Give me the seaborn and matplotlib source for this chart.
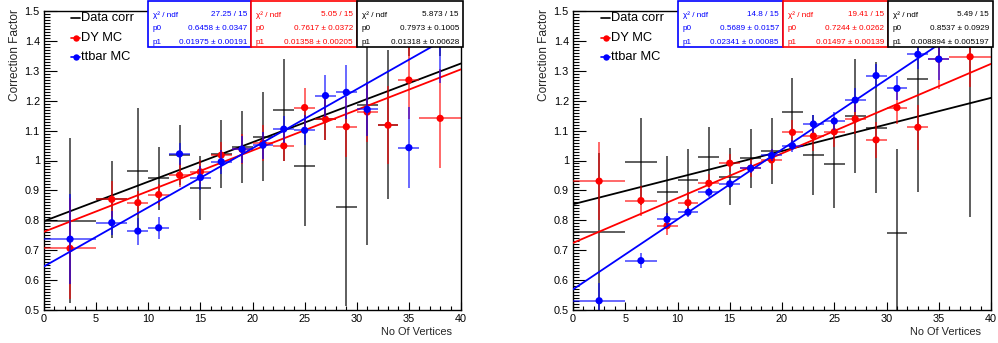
import numpy as np
import pandas as pd
import matplotlib
matplotlib.use("Agg")
import matplotlib.pyplot as plt
from matplotlib.lines import Line2D
from matplotlib.patches import Rectangle
from matplotlib.ticker import MultipleLocator, FixedLocator, FuncFormatter
import seaborn as sns

# ---------------- data ----------------
x_centers = [2.5, 6.5, 9, 11, 13, 15, 17, 19, 21, 23, 25, 27, 29, 31, 33, 35, 38]
x_halfwidth = [2.5, 1.5, 1, 1, 1, 1, 1, 1, 1, 1, 1, 1, 1, 1, 1, 1, 2]

# left panel
L_data_y = [0.798, 0.870, 0.966, 0.940, 1.018, 0.909, 1.022, 1.046, 1.080, 1.169, 0.982, 1.140, 0.845, 1.186, 1.120, 1.650, 1.650]
L_data_e = [0.276, 0.130, 0.210, 0.105, 0.100, 0.107, 0.114, 0.120, 0.150, 0.170, 0.200, 0.070, 0.330, 0.470, 0.250, 0.300, 0.300]
L_dy_y = [0.706, 0.870, 0.859, 0.886, 0.951, 0.962, 1.018, 1.037, 1.058, 1.049, 1.177, 1.138, 1.113, 1.162, 1.118, 1.269, 1.141]
L_dy_e = [0.170, 0.060, 0.040, 0.035, 0.040, 0.040, 0.045, 0.050, 0.060, 0.050, 0.065, 0.070, 0.100, 0.100, 0.130, 0.130, 0.165]
L_tt_y = [0.737, 0.792, 0.764, 0.775, 1.022, 0.943, 0.996, 1.038, 1.051, 1.105, 1.101, 1.217, 1.228, 1.171, 1.600, 1.043, 1.550]
L_tt_e = [0.150, 0.040, 0.045, 0.036, 0.036, 0.040, 0.040, 0.045, 0.045, 0.045, 0.050, 0.070, 0.090, 0.090, 0.080, 0.135, 0.290]

# right panel
R_data_y = [0.760, 0.996, 0.894, 0.935, 1.011, 0.946, 1.007, 1.033, 1.161, 1.018, 0.987, 1.149, 1.110, 0.759, 1.273, 1.650, 1.380]
R_data_e = [0.266, 0.145, 0.120, 0.105, 0.100, 0.095, 0.100, 0.110, 0.116, 0.135, 0.146, 0.190, 0.220, 0.280, 0.377, 0.300, 0.570]
R_dy_y = [0.931, 0.866, 0.782, 0.859, 0.924, 0.991, 0.974, 1.002, 1.094, 1.082, 1.096, 1.139, 1.069, 1.177, 1.111, 1.339, 1.347]
R_dy_e = [0.130, 0.050, 0.030, 0.035, 0.030, 0.030, 0.030, 0.035, 0.040, 0.050, 0.050, 0.050, 0.060, 0.055, 0.075, 0.100, 0.100]
R_tt_y = [0.531, 0.665, 0.803, 0.827, 0.894, 0.922, 0.974, 1.017, 1.049, 1.122, 1.132, 1.202, 1.284, 1.241, 1.355, 1.339, 1.600]
R_tt_e = [0.060, 0.025, 0.020, 0.015, 0.015, 0.015, 0.015, 0.020, 0.020, 0.030, 0.030, 0.040, 0.040, 0.040, 0.050, 0.070, 0.100]

# fit parameters (text in stat boxes)
L_fit = {"blue": ("27.25 / 15", 0.6458, "0.6458 ± 0.0347", 0.01975, "0.01975 ± 0.00191"),
         "red": ("5.05 / 15", 0.7617, "0.7617 ± 0.0372", 0.01358, "0.01358 ± 0.00205"),
         "black": ("5.873 / 15", 0.7973, "0.7973 ± 0.1005", 0.01318, "0.01318 ± 0.00628")}
R_fit = {"blue": ("14.8 / 15", 0.5689, "0.5689 ± 0.0157", 0.02341, "0.02341 ± 0.00085"),
         "red": ("19.41 / 15", 0.7244, "0.7244 ± 0.0262", 0.01497, "0.01497 ± 0.00139"),
         "black": ("5.49 / 15", 0.8537, "0.8537 ± 0.0929", 0.008894, "0.008894 ± 0.005197")}

legend_labels = ["Data corr", "DY MC", "ttbar MC"]
x_ticks = [0, 5, 10, 15, 20, 25, 30, 35, 40]
y_ticks = [0.5, 0.6, 0.7, 0.8, 0.9, 1.0, 1.1, 1.2, 1.3, 1.4, 1.5]

# ---------------- style ----------------
sns.set_style("ticks")
plt.rcParams["font.family"] = ["Liberation Sans", "DejaVu Sans"]

W, H = 998, 343
fig = plt.figure(figsize=(W / 100, H / 100), dpi=100)

BLUE = "#0000ff"
RED = "#ff0000"
BLACK = "#000000"


def fx(px):
    return px / W


def fy(py):
    return 1 - py / H


def ytick_fmt(v, pos):
    s = f"{v:.1f}"
    return "1" if abs(v - 1) < 1e-9 else s


def draw_panel(ax, dy_data, dy_err, dy_dy, dy_dyerr, tt_y, tt_e, fits):
    df = pd.DataFrame({"x": x_centers, "xe": x_halfwidth})
    xl = np.array([0.0, 40.0])
    # data corr
    ax.errorbar(x_centers, dy_data, xerr=x_halfwidth, yerr=dy_err, fmt="none",
                ecolor=BLACK, elinewidth=1.1, capsize=0, alpha=0.8, zorder=2)
    sns.lineplot(x=xl, y=fits["black"][1] + fits["black"][3] * xl, color=BLACK,
                 lw=1.3, ax=ax, zorder=3)
    # DY
    ax.errorbar(x_centers, dy_dy, xerr=x_halfwidth, yerr=dy_dyerr, fmt="none",
                ecolor=RED, elinewidth=1.1, capsize=0, alpha=0.75, zorder=4)
    sns.scatterplot(x=df["x"], y=dy_dy, color=RED, s=27, edgecolor="none", ax=ax,
                    zorder=5, legend=False)
    sns.lineplot(x=xl, y=fits["red"][1] + fits["red"][3] * xl, color=RED,
                 lw=1.3, ax=ax, zorder=5)
    # ttbar
    ax.errorbar(x_centers, tt_y, xerr=x_halfwidth, yerr=tt_e, fmt="none",
                ecolor=BLUE, elinewidth=1.1, capsize=0, alpha=0.75, zorder=6)
    sns.scatterplot(x=df["x"], y=tt_y, color=BLUE, s=27, edgecolor="none", ax=ax,
                    zorder=7, legend=False)
    sns.lineplot(x=xl, y=fits["blue"][1] + fits["blue"][3] * xl, color=BLUE,
                 lw=1.3, ax=ax, zorder=7)

    ax.set_xlim(0, 40)
    ax.set_ylim(0.5, 1.5)
    ax.set_xlabel("")
    ax.set_ylabel("")
    ax.xaxis.set_major_locator(FixedLocator(x_ticks))
    ax.xaxis.set_minor_locator(MultipleLocator(1))
    ax.yaxis.set_major_locator(FixedLocator(y_ticks))
    ax.yaxis.set_minor_locator(MultipleLocator(0.01))
    ax.yaxis.set_major_formatter(FuncFormatter(ytick_fmt))
    ax.tick_params(axis="both", which="both", direction="in", top=False, right=False,
                   labelsize=7.8, width=0.8, colors="black")
    ax.tick_params(axis="y", which="major", length=9, pad=3)
    ax.tick_params(axis="y", which="minor", length=4.6)
    ax.tick_params(axis="x", which="major", length=6, pad=3)
    ax.tick_params(axis="x", which="minor", length=3)
    for s in ax.spines.values():
        s.set_visible(True)
        s.set_linewidth(1.0)
        s.set_color("black")


def stat_boxes(x_edges, fits):
    y0, y1 = 1, 47
    rows = [15, 28.5, 42]
    for (xa, xb), key, col in zip(x_edges, ["blue", "red", "black"], [BLUE, RED, BLACK]):
        chi, _, p0s, _, p1s = fits[key]
        fig.add_artist(Rectangle((fx(xa), fy(y1)), fx(xb) - fx(xa), fy(y0) - fy(y1),
                                 transform=fig.transFigure, facecolor="white",
                                 edgecolor=col, lw=1.2, zorder=10))
        labels = ["χ² / ndf", "p0", "p1"]
        values = [chi, p0s, p1s]
        for r, lab, val in zip(rows, labels, values):
            fig.text(fx(xa + 5), fy(r), lab, color=col, fontsize=5.9, ha="left",
                     va="center", zorder=11)
            fig.text(fx(xb - 4), fy(r), val, color=col, fontsize=5.9, ha="right",
                     va="center", zorder=11)


def legend(xoff):
    ys = [18, 38, 57]
    cols = [BLACK, RED, BLUE]
    for i, (lab, c, yy) in enumerate(zip(legend_labels, cols, ys)):
        fig.add_artist(Line2D([fx(71 + xoff), fx(80 + xoff)], [fy(yy), fy(yy)],
                              transform=fig.transFigure, color=c, lw=1.2, zorder=12))
        if i > 0:
            fig.add_artist(Line2D([fx(75.5 + xoff)], [fy(yy)], transform=fig.transFigure,
                                  marker="o", ms=4.6, color=c, mec="none", zorder=12))
        fig.text(fx(81 + xoff), fy(yy), lab, fontsize=9.3, ha="left", va="center",
                 color="black", zorder=12)


axL = fig.add_axes([fx(44), fy(310), fx(461) - fx(44), fy(11) - fy(310)])
axR = fig.add_axes([fx(573), fy(310), fx(991) - fx(573), fy(11) - fy(310)])

draw_panel(axL, L_data_y, L_data_e, L_dy_y, L_dy_e, L_tt_y, L_tt_e, L_fit)
draw_panel(axR, R_data_y, R_data_e, R_dy_y, R_dy_e, R_tt_y, R_tt_e, R_fit)

stat_boxes([(148, 251), (251, 357), (357, 463)], L_fit)
stat_boxes([(678, 783), (783, 888), (888, 993)], R_fit)

legend(0)
legend(530)

for xoff in (0, 529):
    fig.text(fx(15 + xoff), fy(9), "Correction Factor", rotation=90, fontsize=8.6,
             ha="center", va="top")
    fig.text(fx(452 + xoff), fy(332), "No Of Vertices", fontsize=7.9, ha="right",
             va="center")

fig.savefig("out.png", dpi=100, facecolor="white")
